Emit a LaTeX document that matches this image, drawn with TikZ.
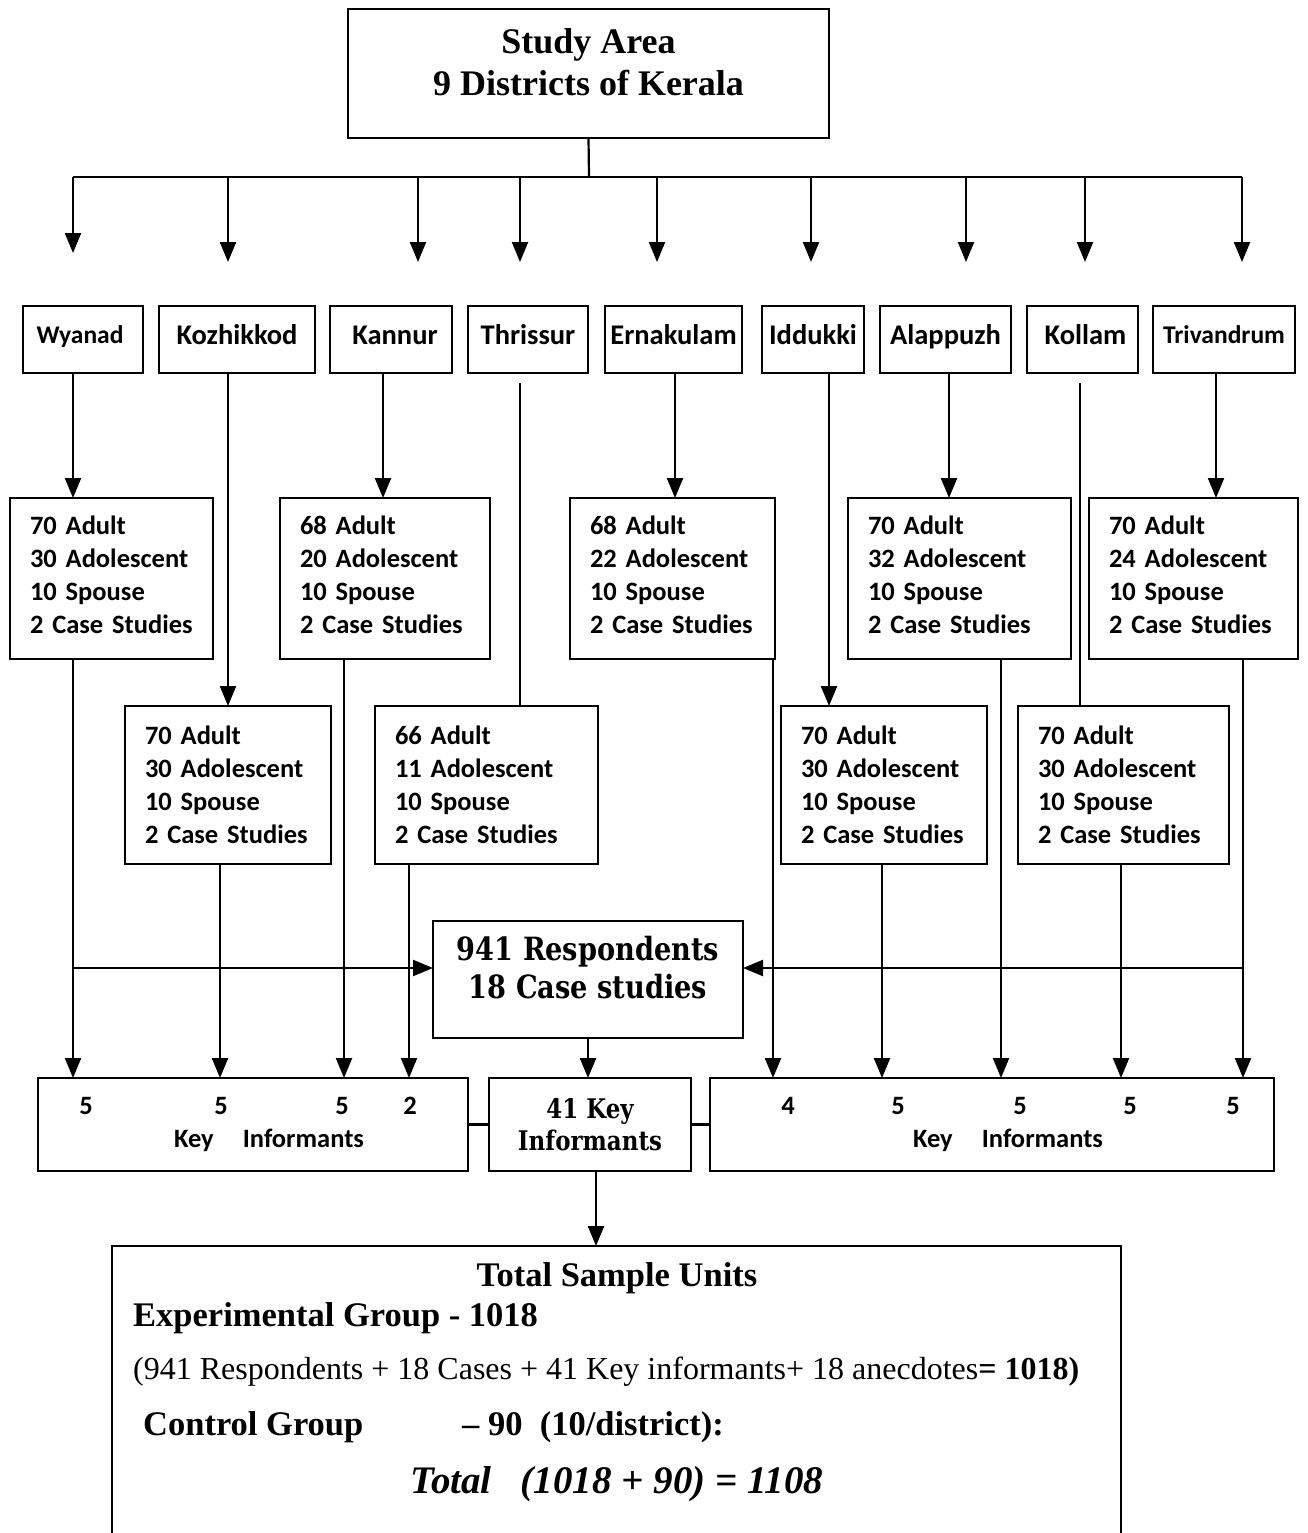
\documentclass[tikz,border=0pt]{standalone}
\usepackage{fontspec}
\setmainfont{Liberation Serif}
\newfontfamily\calfont{Carlito}
\newfontfamily\slabfont[FakeStretch=0.85]{DejaVu Serif}
\usetikzlibrary{arrows.meta,calc}
\tikzset{
  box/.style={draw, line width=2pt, inner sep=0pt, outer sep=0pt},
  dist/.style={box, font=\calfont\bfseries\fontsize{28.5}{32}\selectfont, minimum height=67pt,
    text height=20pt, text depth=10pt},
  distsm/.style={dist, font=\calfont\bfseries\fontsize{25.5}{30}\selectfont, text height=22pt, text depth=14pt},
  dat/.style={box, font=\calfont\bfseries\fontsize{26.5}{33}\selectfont, align=left, inner xsep=20pt},
  num/.style={font=\calfont\bfseries\fontsize{26.5}{30}\selectfont, inner sep=0pt},
  ln/.style={line width=2.2pt},
  arr/.style={ln, -{Triangle[width=16pt,length=20pt]}},
  tnr/.style={inner sep=0pt, font=\fontsize{34.5}{40}\selectfont\bfseries},
}
\begin{document}
\begin{tikzpicture}[x=1pt,y=-1pt]
\useasboundingbox[fill=white] (0,0) rectangle (1307,1533);

% top box
\node[box, minimum width=481pt, minimum height=129pt] (top) at (588.5,73.5) {};
\node[inner sep=0pt, align=center, font=\bfseries\fontsize{36}{42}\selectfont] (toptext) at (588.5,62)
  {Study Area\\9 Districts of Kerala};

% bus
\coordinate (bus) at (589,177);
\coordinate (busL) at (73,177);
\coordinate (busR) at (1242,177);
\draw[ln] (top.south) -- (bus);
\draw[ln] (busL) -- (busR);
\foreach \x/\t [count=\i] in {73/253,228/262,418/262,520/262,657/262,811/262,966/262,1085/262,1242/262}{
  \coordinate (b\i) at (\x,177);
  \coordinate (e\i) at (\x,\t);
  \draw[arr] (b\i) -- (e\i);
}

% district boxes
\node[distsm, minimum width=120pt] (wy)  at (83,339.5)   {Wyanad\hspace*{6pt}};
\node[dist, minimum width=156pt]   (koz) at (237,339.5)  {Kozhikkod};
\node[dist, minimum width=122pt]   (kan) at (391,339.5)  {\hspace*{8pt}Kannur};
\node[dist, minimum width=120pt]   (thr) at (528,339.5)  {Thrissur};
\node[dist, minimum width=137pt]   (ern) at (673.5,339.5){Ernakulam};
\node[dist, minimum width=102pt]   (idd) at (813,339.5)  {Iddukki};
\node[dist, minimum width=131pt]   (ala) at (945.5,339.5){Alappuzh};
\node[dist, minimum width=111pt]   (kol) at (1082.5,339.5){\hspace*{6pt}Kollam};
\node[distsm, minimum width=142pt] (tri) at (1224,339.5) {Trivandrum};

% upper data boxes
\tikzset{up/.style={dat, minimum height=161pt, text depth=107pt}}
\node[up, text width=163pt] (dW) at (111.5,578.5)
  {70 Adult\\30 Adolescent\\10 Spouse\\2 Case Studies};
\node[up, text width=170pt] (dKan) at (385,578.5)
  {68 Adult\\20 Adolescent\\10 Spouse\\2 Case Studies};
\node[up, text width=165pt] (dE) at (672.5,578.5)
  {68 Adult\\22 Adolescent\\10 Spouse\\2 Case Studies};
\node[up, text width=183pt] (dA) at (959.5,578.5)
  {70 Adult\\32 Adolescent\\10 Spouse\\2 Case Studies};
\node[up, text width=169pt] (dT) at (1193.5,578.5)
  {70 Adult\\24 Adolescent\\10 Spouse\\2 Case Studies};

% lower data boxes
\node[dat, text width=166pt, minimum height=158pt] (dKoz) at (228,785)
  {70 Adult\\30 Adolescent\\10 Spouse\\2 Case Studies};
\node[dat, text width=183pt, minimum height=158pt] (dThr) at (486.5,785)
  {66 Adult\\11 Adolescent\\10 Spouse\\2 Case Studies};
\node[dat, text width=166pt, minimum height=158pt] (dIdd) at (884,785)
  {70 Adult\\30 Adolescent\\10 Spouse\\2 Case Studies};
\node[dat, text width=171pt, minimum height=158pt] (dKol) at (1123.5,785)
  {70 Adult\\30 Adolescent\\10 Spouse\\2 Case Studies};

% respondents
\node[box, minimum width=310pt, minimum height=117pt] (resp) at (588,979.5) {};
\node[inner sep=0pt, align=center, font=\slabfont\bfseries\fontsize{32}{38}\selectfont] (resptext) at (588,968)
  {941 Respondents\\18 Case studies};

% key informant boxes
\node[box, minimum width=430pt, minimum height=93pt] (kiL) at (253,1124.5) {};
\node[box, minimum width=202pt, minimum height=93pt, align=center,
  font=\slabfont\bfseries\fontsize{27}{32}\selectfont] (kiC) at (590,1124.5) {41 Key\\Informants};
\node[box, minimum width=564pt, minimum height=93pt] (kiR) at (992,1124.5) {};
\draw[ln] (kiL.east) -- (kiC.west);
\draw[ln] (kiC.east) -- (kiR.west);

\foreach \x/\n in {86/5,221/5,342/5,410/2,788/4,898/5,1020/5,1130/5,1233/5}{
  \node[num] at (\x,1106) {\n};
}
\node[num] (kilab) at (269,1140) {Key\hspace{1.1em}Informants};
\node[num] (kirab) at (1008,1140) {Key\hspace{1.1em}Informants};

% line x positions
\foreach \n/\x in {cA/73,cB/228,cC/383,cD/520,cE/675,cF/829,cG/949,cH/1080,cI/1216,
                   lA/220,lB/344,lC/409,lD/773,lE/882,lF/1001,lG/1121,lH/1243}{
  \coordinate (\n) at (\x,0);
}
\coordinate (gap1) at (0,383);

% district -> data boxes
\draw[arr] (cA |- wy.south)  -- (cA |- dW.north);
\draw[arr] (cB |- koz.south) -- (cB |- dKoz.north);
\draw[arr] (cC |- kan.south) -- (cC |- dKan.north);
\draw[ln]  (cD |- gap1)      -- (cD |- dThr.north);
\draw[arr] (cE |- ern.south) -- (cE |- dE.north);
\draw[arr] (cF |- idd.south) -- (cF |- dIdd.north);
\draw[arr] (cG |- ala.south) -- (cG |- dA.north);
\draw[ln]  (cH |- gap1)      -- (cH |- dKol.north);
\draw[arr] (cI |- tri.south) -- (cI |- dT.north);

% data boxes -> key informant boxes
\draw[arr] (cA |- dW.south)   -- (cA |- kiL.north);
\draw[arr] (lA |- dKoz.south) -- (lA |- kiL.north);
\draw[arr] (lB |- dKan.south) -- (lB |- kiL.north);
\draw[arr] (lC |- dThr.south) -- (lC |- kiL.north);
\draw[arr] (lD |- dE.south)   -- (lD |- kiR.north);
\draw[arr] (lE |- dIdd.south) -- (lE |- kiR.north);
\draw[arr] (lF |- dA.south)   -- (lF |- kiR.north);
\draw[arr] (lG |- dKol.south) -- (lG |- kiR.north);
\draw[arr] (lH |- dT.south)   -- (lH |- kiR.north);

% horizontal feeds into respondents
\coordinate (hy) at (0,968);
\draw[arr] (cA |- hy) -- (resp.west |- hy);
\draw[arr] (lH |- hy) -- (resp.east |- hy);

\draw[arr] (resp.south) -- (resp.south |- kiC.north);

% total box
\node[minimum width=1009pt, minimum height=287pt, inner sep=0pt, outer sep=0pt] (total) at (616.5,1389.5) {};
\draw[line width=2pt] (total.south west) -- (total.north west) -- (total.north east) -- (total.south east);
\coordinate (tarr) at (596,0);
\draw[arr] (tarr |- kiC.south) -- (tarr |- total.north);

\node[tnr] (t1) at (617,1278) {Total Sample Units};
\node[tnr, anchor=west] (t2) at (133,1318) {Experimental Group - 1018};
\node[inner sep=0pt, anchor=west, font=\fontsize{32}{36}\selectfont] (t3) at (133,1372)
  {(941 Respondents + 18 Cases + 41 Key informants+ 18 anecdotes\textbf{= 1018)}};
\node[tnr, anchor=west] (t4) at (143,1427) {Control Group};
\node[tnr, anchor=west] (t5) at (462,1427) {– 90\hspace{0.5em}(10/district):};
\node[inner sep=0pt, font=\fontsize{39}{44}\selectfont\bfseries\itshape] (t6) at (617,1484)
  {Total\hspace{0.75em}(1018 + 90) = 1108};
\end{tikzpicture}
\end{document}
